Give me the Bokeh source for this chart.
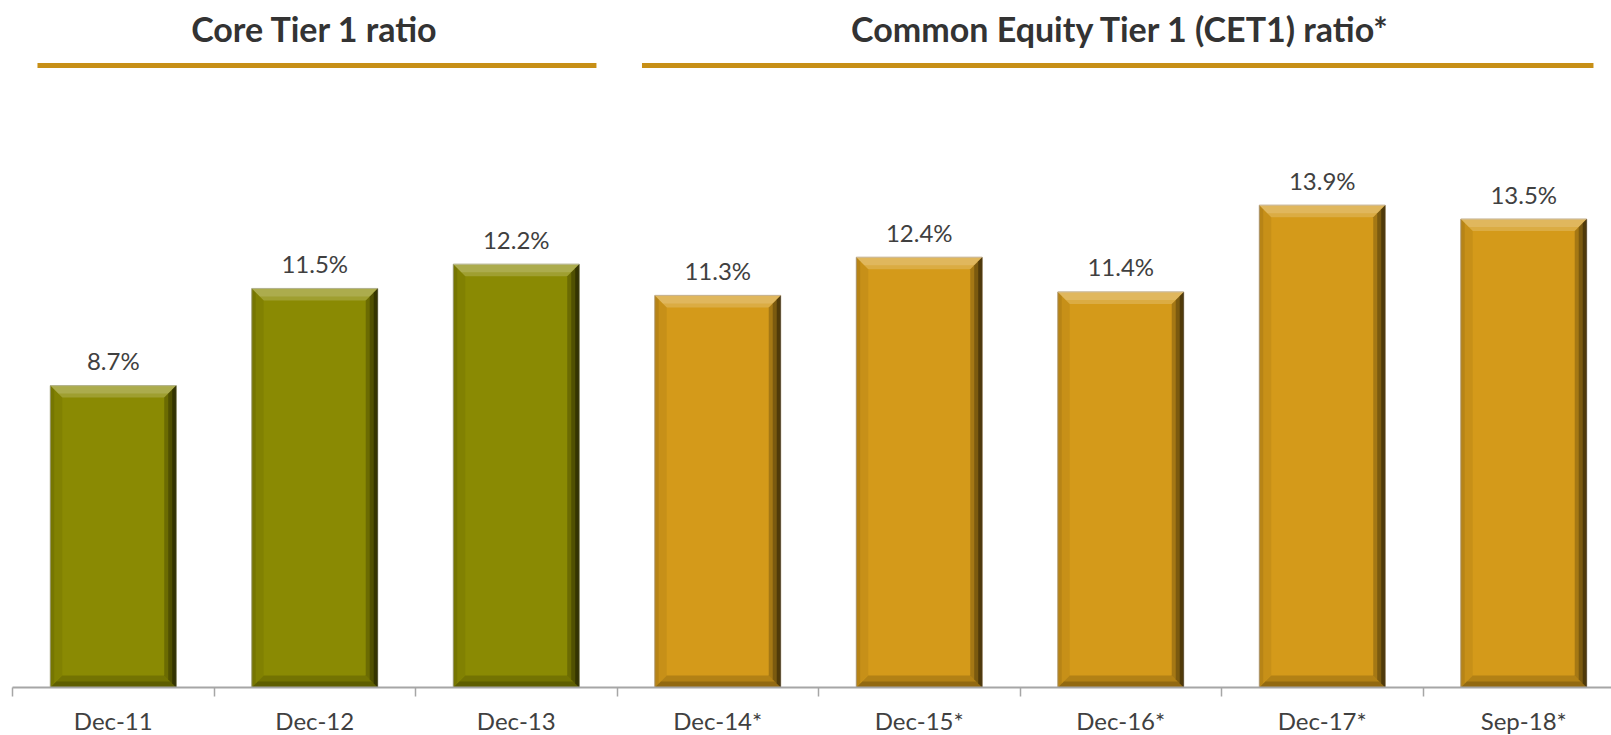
from bokeh.plotting import figure
from bokeh.models import Range1d, FixedTicker, ColumnDataSource, LabelSet
from bokeh.embed import file_html
from bokeh.resources import INLINE
from bokeh.core.properties import value

# ---------------- data ----------------
categories = ["Dec-11", "Dec-12", "Dec-13", "Dec-14*", "Dec-15*", "Dec-16*", "Dec-17*", "Sep-18*"]
ratios = [8.7, 11.5, 12.2, 11.3, 12.4, 11.4, 13.9, 13.5]
groups = ["core", "core", "core", "cet1", "cet1", "cet1", "cet1", "cet1"]
group_titles = ["Core Tier 1 ratio", "Common Equity Tier 1 (CET1) ratio*"]
group_keys = ["core", "cet1"]

# ---------------- layout / style ----------------
W, H = 1611, 735
AXIS_Y = 687            # pixel row (inside the figure) of the category axis
PX_PER_UNIT_Y = 34.7
CAT_PX = 201.5
X_START = -12.0 / CAT_PX
BAR_W = 0.625
FONT = "Lato"
group_color = {"core": "#8A8A03", "cet1": "#D49A1A"}
group_line = {"core": "#A4A47A", "cet1": "#B9A27A"}

n = len(categories)
centers = [i + 0.5 for i in range(n)]
labels = ["%.1f%%" % v for v in ratios]
colors = [group_color[g] for g in groups]

p = figure(width=W, height=H, output_backend="svg", toolbar_location=None,
           x_range=Range1d(X_START, X_START + W / CAT_PX),
           y_range=Range1d(-(H - AXIS_Y) / PX_PER_UNIT_Y, AXIS_Y / PX_PER_UNIT_Y),
           min_border_left=0, min_border_right=0, min_border_top=0,
           min_border_bottom=0)
p.outline_line_color = None
p.grid.visible = False
p.yaxis.visible = False
p.background_fill_color = "white"
p.border_fill_color = "white"

src = ColumnDataSource(dict(x=centers, top=ratios, color=colors, label=labels,
                            line=[group_line[g] for g in groups]))
p.vbar(x="x", top="top", width=BAR_W, bottom=0, fill_color="color",
       line_color="line", line_width=1, source=src)


def add_bevel(step_px, alpha, side, color):
    xs, ys = [], []
    sx = step_px / CAT_PX
    sy = step_px / PX_PER_UNIT_Y
    for c, v in zip(centers, ratios):
        x0, x1 = c - BAR_W / 2, c + BAR_W / 2
        if side == "top":
            xs.append([x0, x1, x1 - sx, x0 + sx]); ys.append([v, v, v - sy, v - sy])
        elif side == "right":
            xs.append([x1, x1, x1 - sx, x1 - sx]); ys.append([v, 0, sy, v - sy])
        elif side == "bottom":
            xs.append([x0, x1, x1 - sx, x0 + sx]); ys.append([0, 0, sy, sy])
        elif side == "left":
            xs.append([x0, x0, x0 + sx, x0 + sx]); ys.append([v, 0, sy, v - sy])
    p.patches(xs, ys, fill_color=color, fill_alpha=alpha, line_color=None)


# bevel effect
add_bevel(12, 0.18, "top", "white")
add_bevel(8, 0.14, "top", "white")
add_bevel(12, 0.22, "right", "black")
add_bevel(8, 0.25, "right", "black")
add_bevel(4, 0.35, "right", "black")
add_bevel(12, 0.16, "bottom", "black")
add_bevel(6, 0.18, "bottom", "black")
add_bevel(12, 0.06, "left", "black")
add_bevel(4, 0.08, "left", "black")

# value labels
p.add_layout(LabelSet(x="x", y="top", text="label", source=src, y_offset=25,
                      text_align="center", text_baseline="middle",
                      text_font=value(FONT), text_font_size="24px",
                      text_color="#404040"))

# group headers + golden rules
group_start = [groups.index(g) for g in group_keys]
group_end = [n - groups[::-1].index(g) for g in group_keys]
line_left = [s + 0.124 for s in group_start]
line_right = [group_end[0] - 0.102, group_end[1] - 0.154]
head_y = (AXIS_Y - 28) / PX_PER_UNIT_Y
line_top = (AXIS_Y - 62.5) / PX_PER_UNIT_Y
line_bot = (AXIS_Y - 67.5) / PX_PER_UNIT_Y
p.quad(left=line_left, right=line_right, top=line_top, bottom=line_bot,
       fill_color="#C78F16", line_color=None)
p.text(x=[(s + e) / 2 for s, e in zip(group_start, group_end)], y=[head_y] * 2,
       text=group_titles, text_align="center", text_baseline="middle",
       text_font=value(FONT), text_font_size="34px", text_font_style="bold",
       text_color="#333333")

# x axis: labels at centres, ticks at boundaries, drawn at y = 0
ax = p.xaxis[0]
ax.fixed_location = 0
ax.ticker = FixedTicker(ticks=centers, minor_ticks=list(range(n + 1)))
ax.major_label_overrides = {c: lab for c, lab in zip(centers, categories)}
ax.major_tick_out = 0
ax.major_tick_in = 0
ax.minor_tick_out = 9
ax.minor_tick_in = 0
ax.minor_tick_line_color = "#A6A6A6"
ax.minor_tick_line_width = 1.5
ax.axis_line_color = "#A6A6A6"
ax.axis_line_width = 2
ax.bounds = (0, n)
ax.major_label_standoff = 9
ax.major_label_text_font = FONT
ax.major_label_text_font_size = "24px"
ax.major_label_text_color = "#404040"

open("out.html", "w").write(file_html(p, INLINE))
